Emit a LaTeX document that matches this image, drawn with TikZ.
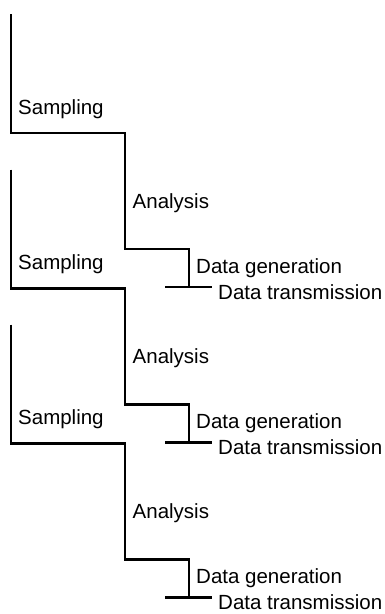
\documentclass[tikz,border=0pt]{standalone}
\usepackage{fontspec}
\setmainfont{Liberation Sans}
\tikzset{
  stepline/.style={line width=2.3pt, line join=miter, black},
  lbl/.style={anchor=base west, inner sep=0pt, font=\fontsize{20.5}{23}\selectfont}
}
\begin{document}
\begin{tikzpicture}[x=1pt,y=-1pt]
\useasboundingbox (0,0) rectangle (385,614);
\foreach \i/\o in {1/0,2/155.5,3/310.5}{
  \coordinate (top\i) at (11,14+\o);
  \coordinate (ca\i) at (11,133+\o);
  \coordinate (cb\i) at (125,133+\o);
  \coordinate (cc\i) at (125,249+\o);
  \coordinate (cd\i) at (189,249+\o);
  \coordinate (foot\i) at (189,287+\o);
  \coordinate (tl\i) at (165,287+\o);
  \coordinate (tr\i) at (212,287+\o);
  \draw[stepline] (top\i) -- (ca\i) -- (cb\i) -- (cc\i) -- (cd\i) -- (foot\i);
  \draw[stepline] (tl\i) -- (tr\i);
  \node[lbl] (samp\i) at (18,114+\o) {Sampling};
  \node[lbl] (anal\i) at (132.5,208+\o) {Analysis};
  \node[lbl] (gen\i) at (196,273+\o) {Data generation};
  \node[lbl] (trans\i) at (218,299+\o) {Data transmission};
}
\end{tikzpicture}
\end{document}
